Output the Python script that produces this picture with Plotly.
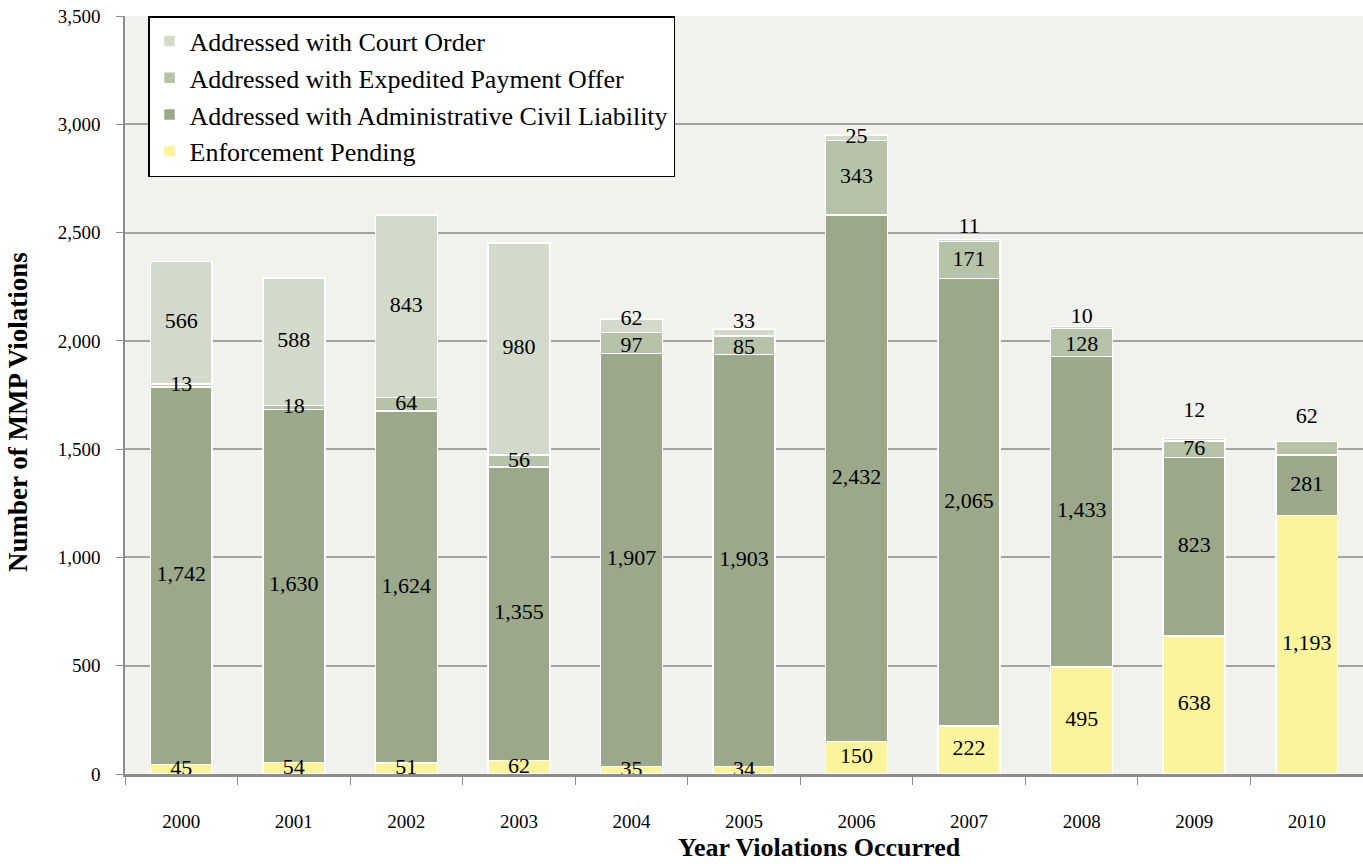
import plotly.graph_objects as go

years = ["2000", "2001", "2002", "2003", "2004", "2005", "2006", "2007", "2008", "2009", "2010"]
pending = [45, 54, 51, 62, 35, 34, 150, 222, 495, 638, 1193]
acl = [1742, 1630, 1624, 1355, 1907, 1903, 2432, 2065, 1433, 823, 281]
epo = [13, 18, 64, 56, 97, 85, 343, 171, 128, 76, 62]
court = [566, 588, 843, 980, 62, 33, 25, 11, 10, 12, 0]
y_ticks = [0, 500, 1000, 1500, 2000, 2500, 3000, 3500]

series = [
    ("Enforcement Pending", pending, "#FBF49C"),
    ("Addressed with Administrative Civil Liability", acl, "#9BA98A"),
    ("Addressed with Expedited Payment Offer", epo, "#B6C3A8"),
    ("Addressed with Court Order", court, "#D3D9CB"),
]

FONT = "Liberation Serif"
# label nudges (in axis units) for labels that sit above small top segments
label_nudge = {(3, 7): 60, (3, 9): 130, (2, 10): 140,
               (3, 4): 30, (3, 5): 45, (3, 8): 45, (2, 8): -15, (2, 5): -15, (2, 4): -15}

fig = go.Figure()
for i, (name, vals, col) in enumerate(series):
    fig.add_trace(go.Bar(
        x=years, y=vals, name=name,
        marker=dict(color=col, line=dict(color="white", width=1.5)),
        legendgroup=name, hoverinfo="skip",
    ))

base = [0] * len(years)
for i, (name, vals, col) in enumerate(series):
    xs, ys, ts = [], [], []
    for j, v in enumerate(vals):
        if v > 0:
            xs.append(years[j])
            ys.append(base[j] + v / 2 + label_nudge.get((i, j), 0))
            ts.append(f"{v:,}")
        base[j] += v
    fig.add_trace(go.Scatter(
        x=xs, y=ys, text=ts, mode="text", textposition="middle center",
        textfont=dict(family=FONT, size=22, color="black"),
        showlegend=False, hoverinfo="skip", cliponaxis=False,
    ))

fig.update_layout(
    barmode="stack",
    bargap=0.45,
    width=1363, height=867,
    margin=dict(l=125, r=0, t=16, b=93),
    paper_bgcolor="white",
    plot_bgcolor="#F1F2EE",
    font=dict(family=FONT, size=18, color="black"),
    showlegend=True,
    legend=dict(
        x=0.0186, y=1.0, xanchor="left", yanchor="top",
        traceorder="reversed", tracegroupgap=10,
        bgcolor="white", bordercolor="black", borderwidth=1.5,
        font=dict(family=FONT, size=26, color="black"),
        itemwidth=30,
    ),
    xaxis=dict(
        type="category", range=[-0.5, 10.5],
        showline=True, linecolor="#8C8C8C", linewidth=3,
        ticks="outside", tickson="boundaries", ticklen=8, tickcolor="#8C8C8C",
        tickfont=dict(family=FONT, size=19),
        ticklabelstandoff=28,
    ),
    yaxis=dict(
        range=[0, 3500], tickvals=y_ticks, ticktext=[f"{t:,}" for t in y_ticks],
        showgrid=True, gridcolor="#A3A3A3", gridwidth=1.5,
        showline=True, linecolor="#8C8C8C", linewidth=1.5,
        ticks="outside", ticklen=7, tickcolor="#8C8C8C",
        tickfont=dict(family=FONT, size=19),
        ticklabelstandoff=12,
        zeroline=False,
    ),
    annotations=[
        dict(text="<b>Year Violations Occurred</b>", xref="paper", yref="paper",
             x=0.5606, y=-0.0976, xanchor="center", yanchor="middle", showarrow=False,
             font=dict(family=FONT, size=26, color="black")),
        dict(text="<b>Number of MMP Violations</b>", xref="paper", yref="paper",
             x=-0.0864, y=0.4776, xanchor="center", yanchor="middle", showarrow=False,
             textangle=-90, font=dict(family=FONT, size=27, color="black")),
    ],
)

fig.write_html("out.html", post_script="document.body.style.margin='0';",
               config={"displayModeBar": False})
